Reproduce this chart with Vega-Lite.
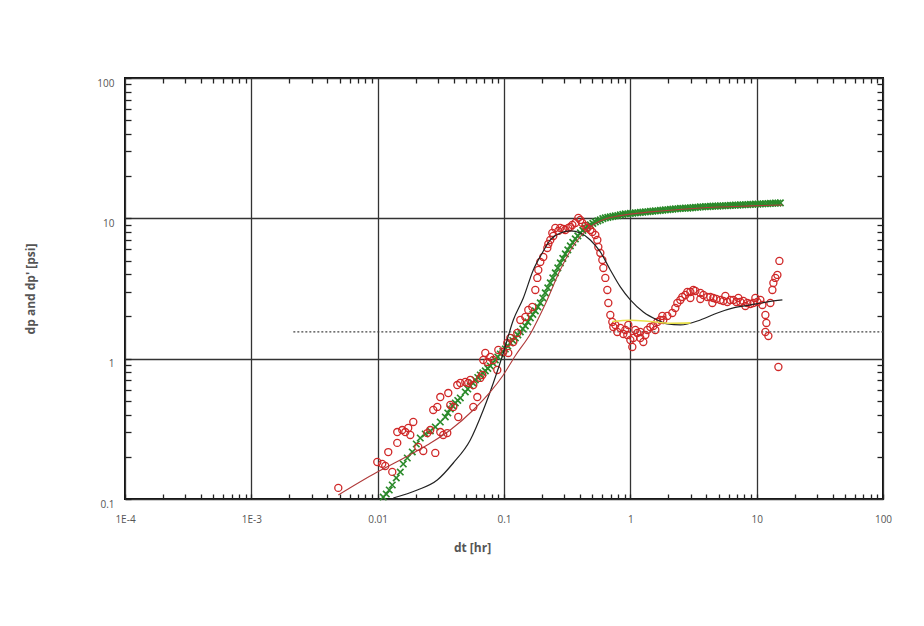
{
  "$schema": "https://vega.github.io/schema/vega-lite/v6.json",
  "width": 758,
  "height": 421,
  "autosize": {"type": "none"},
  "padding": {"left": 125, "top": 78, "right": 41, "bottom": 127},
  "background": "white",
  "config": {
    "view": {"stroke": "#111", "strokeWidth": 2},
    "axis": {
      "domain": false,
      "labelFont": "Open Sans",
      "labelFontSize": 10,
      "labelColor": "#555",
      "titleFont": "Open Sans",
      "titleFontSize": 12,
      "titleColor": "#555",
      "titleFontWeight": "bold",
      "gridColor": "#333",
      "gridWidth": 1.3,
      "tickColor": "#222",
      "tickWidth": 1.3,
      "labelOverlap": false,
      "labelFlush": false,
      "labelBound": false
    }
  },
  "datasets": {
    "ref": [{"t": 0.00215, "v": 1.55}, {"t": 100, "v": 1.55}],
    "dp": [
      {"t":0.01107,"v":0.1033},{"t":0.0117,"v":0.1085},{"t":0.01235,"v":0.1159},{"t":0.01305,"v":0.1258},{"t":0.01404,"v":0.1412},{"t":0.0151,"v":0.1557},{"t":0.01595,"v":0.1776},{"t":0.01716,"v":0.196},{"t":0.01879,"v":0.2163},{"t":0.02021,"v":0.2466},{"t":0.02174,"v":0.2721},{"t":0.02381,"v":0.2906},{"t":0.02609,"v":0.3053},{"t":0.02858,"v":0.326},{"t":0.0313,"v":0.3538},{"t":0.03429,"v":0.3841},{"t":0.0359,"v":0.4102},{"t":0.03757,"v":0.438},{"t":0.03931,"v":0.4601},{"t":0.04115,"v":0.4833},{"t":0.04305,"v":0.5036},{"t":0.04508,"v":0.5246},{"t":0.04938,"v":0.579},{"t":0.05168,"v":0.608},{"t":0.05409,"v":0.6389},{"t":0.05662,"v":0.671},{"t":0.05926,"v":0.705},{"t":0.06203,"v":0.7345},{"t":0.06492,"v":0.7652},{"t":0.06794,"v":0.7914},{"t":0.0711,"v":0.8173},{"t":0.07442,"v":0.8515},{"t":0.07789,"v":0.887},{"t":0.08152,"v":0.9318},{"t":0.08533,"v":0.9788},{"t":0.08931,"v":1.028},{"t":0.09348,"v":1.08},{"t":0.09784,"v":1.125},{"t":0.1024,"v":1.172},{"t":0.1072,"v":1.231},{"t":0.1122,"v":1.294},{"t":0.1174,"v":1.348},{"t":0.1229,"v":1.405},{"t":0.1286,"v":1.476},{"t":0.1346,"v":1.55},{"t":0.1409,"v":1.628},{"t":0.1475,"v":1.71},{"t":0.1543,"v":1.827},{"t":0.1615,"v":1.95},{"t":0.169,"v":2.065},{"t":0.177,"v":2.188},{"t":0.1852,"v":2.336},{"t":0.1938,"v":2.495},{"t":0.2029,"v":2.707},{"t":0.2123,"v":2.939},{"t":0.2222,"v":3.191},{"t":0.2326,"v":3.464},{"t":0.2434,"v":3.761},{"t":0.2548,"v":4.081},{"t":0.2667,"v":4.431},{"t":0.2791,"v":4.81},{"t":0.2921,"v":5.177},{"t":0.3058,"v":5.577},{"t":0.32,"v":5.954},{"t":0.3349,"v":6.359},{"t":0.3505,"v":6.734},{"t":0.3669,"v":7.133},{"t":0.384,"v":7.489},{"t":0.4018,"v":7.868},{"t":0.4206,"v":8.199},{"t":0.4401,"v":8.541},{"t":0.4607,"v":8.757},{"t":0.4822,"v":8.974},{"t":0.5047,"v":9.2},{"t":0.5282,"v":9.426},{"t":0.5529,"v":9.6},{"t":0.5787,"v":9.741},{"t":0.6056,"v":9.95},{"t":0.6339,"v":10.07},{"t":0.6634,"v":10.15},{"t":0.6944,"v":10.23},{"t":0.7268,"v":10.33},{"t":0.7606,"v":10.4},{"t":0.7961,"v":10.47},{"t":0.8333,"v":10.57},{"t":0.8722,"v":10.68},{"t":0.9129,"v":10.75},{"t":0.9555,"v":10.77},{"t":1.0,"v":10.84},{"t":1.0466,"v":10.9},{"t":1.095,"v":10.93},{"t":1.1463,"v":10.96},{"t":1.2,"v":11.02},{"t":1.2562,"v":11.08},{"t":1.315,"v":11.11},{"t":1.3762,"v":11.14},{"t":1.44,"v":11.2},{"t":1.507,"v":11.26},{"t":1.577,"v":11.29},{"t":1.6508,"v":11.32},{"t":1.728,"v":11.38},{"t":1.8086,"v":11.45},{"t":1.893,"v":11.48},{"t":1.9815,"v":11.51},{"t":2.074,"v":11.57},{"t":2.1707,"v":11.64},{"t":2.272,"v":11.67},{"t":2.3781,"v":11.7},{"t":2.489,"v":11.76},{"t":2.6049,"v":11.8},{"t":2.726,"v":11.82},{"t":2.853,"v":11.83},{"t":2.986,"v":11.86},{"t":3.1252,"v":11.93},{"t":3.271,"v":11.96},{"t":3.4235,"v":11.99},{"t":3.583,"v":12.06},{"t":3.7502,"v":12.09},{"t":3.925,"v":12.1},{"t":4.1082,"v":12.12},{"t":4.3,"v":12.16},{"t":4.5003,"v":12.2},{"t":4.71,"v":12.22},{"t":4.9293,"v":12.23},{"t":5.159,"v":12.26},{"t":5.4,"v":12.29},{"t":5.652,"v":12.3},{"t":5.9153,"v":12.32},{"t":6.191,"v":12.36},{"t":6.4799,"v":12.4},{"t":6.782,"v":12.42},{"t":7.0976,"v":12.43},{"t":7.428,"v":12.46},{"t":7.7745,"v":12.49},{"t":8.137,"v":12.5},{"t":8.5166,"v":12.52},{"t":8.914,"v":12.56},{"t":9.3303,"v":12.6},{"t":9.766,"v":12.63},{"t":10.222,"v":12.64},{"t":10.7,"v":12.67},{"t":11.199,"v":12.7},{"t":11.72,"v":12.71},{"t":12.268,"v":12.73},{"t":12.84,"v":12.77},{"t":13.436,"v":12.81},{"t":14.06,"v":12.84},{"t":14.715,"v":12.85},{"t":15.4,"v":12.88}
    ],
    "dpd": [
      {"t":0.00488,"v":0.12},{"t":0.00993,"v":0.1835},{"t":0.01087,"v":0.178},{"t":0.01148,"v":0.172},{"t":0.01213,"v":0.216},{"t":0.01305,"v":0.156},{"t":0.01429,"v":0.251},{"t":0.01429,"v":0.3},{"t":0.01565,"v":0.31},{"t":0.01655,"v":0.3},{"t":0.01746,"v":0.321},{"t":0.01812,"v":0.286},{"t":0.01914,"v":0.354},{"t":0.02095,"v":0.235},{"t":0.02296,"v":0.22},{"t":0.02472,"v":0.295},{"t":0.02608,"v":0.31},{"t":0.02858,"v":0.213},{"t":0.03131,"v":0.3},{"t":0.03306,"v":0.286},{"t":0.03556,"v":0.295},{"t":0.02754,"v":0.431},{"t":0.02965,"v":0.453},{"t":0.03131,"v":0.533},{"t":0.03622,"v":0.569},{"t":0.03758,"v":0.468},{"t":0.03969,"v":0.453},{"t":0.04345,"v":0.384},{"t":0.04266,"v":0.649},{"t":0.04508,"v":0.671},{"t":0.0494,"v":0.682},{"t":0.05213,"v":0.671},{"t":0.05408,"v":0.705},{"t":0.05715,"v":0.649},{"t":0.05715,"v":0.453},{"t":0.06148,"v":0.533},{"t":0.0649,"v":0.729},{"t":0.06733,"v":0.765},{"t":0.07112,"v":1.098},{"t":0.06855,"v":0.979},{"t":0.07379,"v":0.947},{"t":0.0779,"v":1.028},{"t":0.08222,"v":0.979},{"t":0.0885,"v":0.831},{"t":0.09014,"v":1.153},{"t":0.09866,"v":1.116},{"t":0.1062,"v":1.294},{"t":0.1081,"v":1.098},{"t":0.1122,"v":1.405},{"t":0.1185,"v":1.315},{"t":0.1274,"v":1.525},{"t":0.1346,"v":1.887},{"t":0.1475,"v":1.983},{"t":0.1557,"v":2.224},{"t":0.1675,"v":2.336},{"t":0.177,"v":3.088},{"t":0.1835,"v":3.761},{"t":0.1869,"v":4.287},{"t":0.1938,"v":4.89},{"t":0.2047,"v":5.308},{"t":0.2203,"v":6.152},{"t":0.2326,"v":7.015},{"t":0.2412,"v":7.868},{"t":0.2548,"v":8.541},{"t":0.279,"v":8.541},{"t":0.3058,"v":8.266},{"t":0.335,"v":8.682},{"t":0.3669,"v":9.273},{"t":0.3877,"v":10.07},{"t":0.4168,"v":9.273},{"t":0.4566,"v":8.541},{"t":0.5002,"v":8.0},{"t":0.5284,"v":7.614},{"t":0.548,"v":7.015},{"t":0.5581,"v":6.254},{"t":0.5788,"v":5.667},{"t":0.6003,"v":5.053},{"t":0.6113,"v":4.431},{"t":0.634,"v":3.761},{"t":0.6575,"v":3.088},{"t":0.6696,"v":2.495},{"t":0.6944,"v":2.049},{"t":0.7201,"v":1.827},{"t":0.7334,"v":1.682},{"t":0.7888,"v":1.55},{"t":0.8335,"v":1.655},{"t":0.8804,"v":1.5},{"t":0.9467,"v":1.475},{"t":0.9642,"v":1.739},{"t":1.037,"v":1.212},{"t":1.056,"v":1.405},{"t":1.136,"v":1.525},{"t":1.2,"v":1.55},{"t":1.267,"v":1.315},{"t":1.364,"v":1.602},{"t":1.44,"v":1.682},{"t":1.521,"v":1.71},{"t":1.636,"v":1.827},{"t":1.728,"v":1.887},{"t":1.825,"v":1.887},{"t":1.963,"v":2.016},{"t":2.15,"v":2.117},{"t":2.356,"v":2.495},{"t":2.58,"v":2.753},{"t":2.828,"v":2.988},{"t":3.152,"v":3.088},{"t":3.584,"v":2.939},{"t":4.071,"v":2.753},{"t":4.54,"v":2.707},{"t":5.16,"v":2.62},{"t":5.861,"v":2.536},{"t":6.538,"v":2.62},{"t":7.429,"v":2.536},{"t":8.441,"v":2.495},{"t":9.416,"v":2.495},{"t":10.7,"v":2.62},{"t":11.1,"v":2.414},{"t":11.72,"v":2.049},{"t":11.94,"v":1.797},{"t":11.72,"v":1.55},{"t":12.38,"v":1.451},{"t":12.84,"v":2.495},{"t":13.32,"v":3.088},{"t":13.56,"v":3.464},{"t":14.06,"v":3.761},{"t":14.59,"v":3.951},{"t":15.13,"v":4.971},{"t":14.86,"v":0.873},
      {"t":0.2244,"v":6.57},{"t":0.2456,"v":7.489},{"t":0.2691,"v":8.132},{"t":0.2948,"v":8.402},{"t":0.323,"v":8.541},{"t":0.3474,"v":8.974},{"t":0.4019,"v":9.741},{"t":0.4403,"v":8.826},{"t":0.4823,"v":8.266},{"t":0.7606,"v":1.739},{"t":0.9129,"v":1.602},{"t":1.0,"v":1.359},{"t":1.095,"v":1.602},{"t":1.2,"v":1.405},{"t":1.315,"v":1.475},{"t":1.577,"v":1.602},{"t":1.792,"v":2.016},{"t":2.271,"v":2.298},{"t":2.488,"v":2.62},{"t":2.726,"v":2.844},{"t":2.985,"v":2.988},{"t":3.271,"v":3.037},{"t":3.785,"v":2.844},{"t":4.299,"v":2.753},{"t":4.795,"v":2.664},{"t":5.448,"v":2.578},{"t":6.19,"v":2.62},{"t":6.905,"v":2.536},{"t":7.846,"v":2.578},{"t":8.915,"v":2.454},{"t":10.13,"v":2.536},{"t":2.985,"v":2.707},{"t":3.584,"v":2.664},{"t":4.458,"v":2.495},{"t":5.65,"v":2.798},{"t":7.162,"v":2.707},{"t":9.766,"v":2.707},{"t":8.138,"v":2.375}
    ],
    "mdpd": [
      {"t":0.01329,"v":0.1017},{"t":0.02059,"v":0.1159},{"t":0.02964,"v":0.1366},{"t":0.03968,"v":0.1805},{"t":0.05409,"v":0.2634},{"t":0.06857,"v":0.4308},{"t":0.08228,"v":0.6712},{"t":0.09874,"v":1.098},{"t":0.1185,"v":1.887},{"t":0.1422,"v":2.707},{"t":0.1706,"v":4.287},{"t":0.201,"v":5.667},{"t":0.2326,"v":7.015},{"t":0.2791,"v":7.868},{"t":0.3349,"v":8.132},{"t":0.4018,"v":7.868},{"t":0.4822,"v":7.015},{"t":0.5787,"v":5.761},{"t":0.6944,"v":4.287},{"t":0.8333,"v":3.244},{"t":1.0,"v":2.62},{"t":1.267,"v":2.152},{"t":1.636,"v":1.887},{"t":1.963,"v":1.768},{"t":2.489,"v":1.739},{"t":3.583,"v":1.887},{"t":4.885,"v":2.117},{"t":6.54,"v":2.298},{"t":8.914,"v":2.414},{"t":12.15,"v":2.536},{"t":15.98,"v":2.62}
    ],
    "mdp": [
      {"t":0.00488,"v":0.1068},{"t":0.00993,"v":0.1557},{"t":0.0151,"v":0.1897},{"t":0.0247,"v":0.2426},{"t":0.03757,"v":0.3102},{"t":0.05714,"v":0.4308},{"t":0.07789,"v":0.579},{"t":0.09874,"v":0.7652},{"t":0.1229,"v":1.05},{"t":0.1615,"v":1.5},{"t":0.2123,"v":2.45},{"t":0.2791,"v":4.3},{"t":0.3669,"v":6.7},{"t":0.4822,"v":8.7},{"t":0.6339,"v":9.9},{"t":0.8333,"v":10.45},{"t":1.44,"v":11.11},{"t":3.583,"v":11.86},{"t":8.914,"v":12.26},{"t":15.98,"v":12.46}
    ],
    "yel": [
      {"t":0.72,"v":1.84},{"t":1.0,"v":1.88},{"t":1.44,"v":1.84},{"t":2.07,"v":1.79},{"t":2.99,"v":1.8}
    ]
  },
  "layer": [
    {
      "data": {"name": "ref"},
      "mark": {"type": "line", "color": "#444", "strokeWidth": 1.2, "strokeDash": [2, 2], "clip": true},
      "encoding": {
        "x": {"field": "t", "type": "quantitative", "scale": {"type": "log", "domain": [0.0001, 100], "nice": false},
          "axis": {"orient": "bottom",
            "values": [0.0001,0.0002,0.0003,0.0004,0.0005,0.0006,0.0007,0.0008,0.0009,0.001,0.002,0.003,0.004,0.005,0.006,0.007,0.008,0.009,0.01,0.02,0.03,0.04,0.05,0.06,0.07,0.08,0.09,0.1,0.2,0.3,0.4,0.5,0.6,0.7,0.8,0.9,1,2,3,4,5,6,7,8,9,10,20,30,40,50,60,70,80,90,100],
            "labelExpr": "abs(log(datum.value)/LN10 - round(log(datum.value)/LN10)) < 0.001 ? (datum.value < 0.005 ? '1E' + round(log(datum.value)/LN10) : '' + datum.value) : ''",
            "grid": true,
            "gridOpacity": {"condition": {"test": "abs(log(datum.value)/LN10 - round(log(datum.value)/LN10)) < 0.001", "value": 1}, "value": 0},
            "tickSize": -5,
            "labelPadding": 20,
            "title": "dt [hr]",
            "titleX": 347,
            "titleY": 43,
            "titleBaseline": "top"}},
        "y": {"field": "v", "type": "quantitative", "scale": {"type": "log", "domain": [0.1, 100], "nice": false},
          "axis": {"orient": "left",
            "values": [0.1,0.2,0.3,0.4,0.5,0.6,0.7,0.8,0.9,1,2,3,4,5,6,7,8,9,10,20,30,40,50,60,70,80,90,100],
            "labelExpr": "abs(log(datum.value)/LN10 - round(log(datum.value)/LN10)) < 0.001 ? '' + datum.value : ''",
            "grid": true,
            "gridOpacity": {"condition": {"test": "abs(log(datum.value)/LN10 - round(log(datum.value)/LN10)) < 0.001", "value": 1}, "value": 0},
            "tickSize": -6,
            "labelPadding": 17,
            "labelBaseline": "middle",
            "labelOffset": 5,
            "title": "dp and dp' [psi]",
            "titleX": -88}}
      }
    },
    {
      "data": {"name": "dp"},
      "mark": {"type": "point", "shape": "M-1,-1L1,1M1,-1L-1,1", "filled": false, "color": "#2a8a2a", "size": 42, "strokeWidth": 1.7, "opacity": 1},
      "encoding": {
        "x": {"field": "t", "type": "quantitative", "scale": {"type": "log", "domain": [0.0001, 100], "nice": false},
          "axis": {"orient": "top",
            "values": [0.0002,0.0003,0.0004,0.0005,0.0006,0.0007,0.0008,0.0009,0.002,0.003,0.004,0.005,0.006,0.007,0.008,0.009,0.02,0.03,0.04,0.05,0.06,0.07,0.08,0.09,0.2,0.3,0.4,0.5,0.6,0.7,0.8,0.9,2,3,4,5,6,7,8,9,20,30,40,50,60,70,80,90],
            "labels": false, "grid": false, "tickSize": -5, "title": null}},
        "y": {"field": "v", "type": "quantitative", "scale": {"type": "log", "domain": [0.1, 100], "nice": false},
          "axis": {"orient": "right",
            "values": [0.2,0.3,0.4,0.5,0.6,0.7,0.8,0.9,2,3,4,5,6,7,8,9,20,30,40,50,60,70,80,90],
            "labels": false, "grid": false, "tickSize": -6, "title": null}}
      }
    },
    {
      "data": {"name": "dpd"},
      "mark": {"type": "point", "shape": "circle", "filled": false, "color": "#d02828", "size": 50, "strokeWidth": 1.3, "opacity": 1},
      "encoding": {
        "x": {"field": "t", "type": "quantitative", "scale": {"type": "log", "domain": [0.0001, 100], "nice": false}, "axis": null},
        "y": {"field": "v", "type": "quantitative", "scale": {"type": "log", "domain": [0.1, 100], "nice": false}, "axis": null}
      }
    },
    {
      "data": {"name": "mdpd"},
      "mark": {"type": "line", "color": "#222", "strokeWidth": 1.2, "clip": true, "interpolate": "monotone"},
      "encoding": {
        "x": {"field": "t", "type": "quantitative", "scale": {"type": "log", "domain": [0.0001, 100], "nice": false}, "axis": null},
        "y": {"field": "v", "type": "quantitative", "scale": {"type": "log", "domain": [0.1, 100], "nice": false}, "axis": null}
      }
    },
    {
      "data": {"name": "mdp"},
      "mark": {"type": "line", "color": "#b03a3a", "strokeWidth": 1.1, "clip": true, "interpolate": "monotone"},
      "encoding": {
        "x": {"field": "t", "type": "quantitative", "scale": {"type": "log", "domain": [0.0001, 100], "nice": false}, "axis": null},
        "y": {"field": "v", "type": "quantitative", "scale": {"type": "log", "domain": [0.1, 100], "nice": false}, "axis": null}
      }
    },
    {
      "data": {"name": "yel"},
      "mark": {"type": "line", "color": "#e8e04a", "strokeWidth": 1.6, "clip": true, "interpolate": "monotone"},
      "encoding": {
        "x": {"field": "t", "type": "quantitative", "scale": {"type": "log", "domain": [0.0001, 100], "nice": false}, "axis": null},
        "y": {"field": "v", "type": "quantitative", "scale": {"type": "log", "domain": [0.1, 100], "nice": false}, "axis": null}
      }
    }
  ],
  "resolve": {"axis": {"x": "independent", "y": "independent"}}
}
